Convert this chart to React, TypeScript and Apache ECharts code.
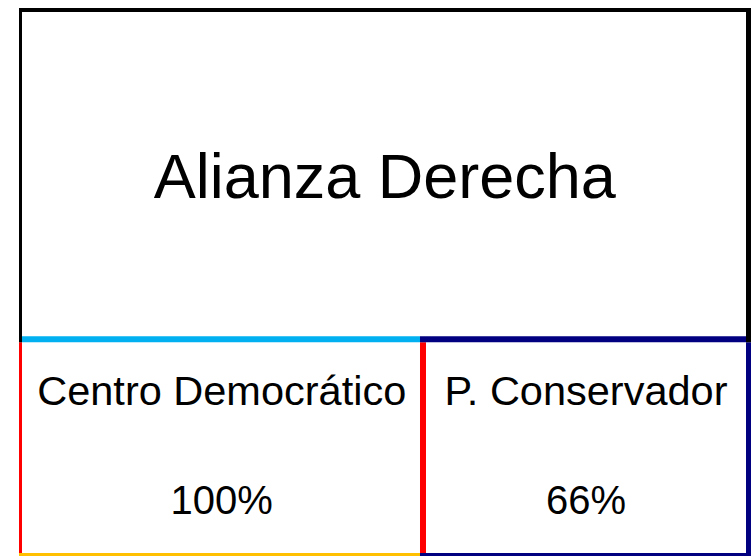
import React, { useEffect, useRef } from "react";
import * as echarts from "echarts";

// Cells of the coalition chart (data space 0..1 on both axes)
const cellNames = ["Alianza Derecha", "Centro Democrático", "P. Conservador"];
const cellShares: (number | null)[] = [null, 100, 66];
const cellX0 = [0, 0, 0.5525];
const cellX1 = [1, 0.5525, 1];
const cellY0 = [0.397, 0, 0];
const cellY1 = [1, 0.397, 0.397];
// small tick marks along the top edge
const topTicks = [0.2354, 0.551, 0.772, 0.999];

const FONT = '"Liberation Sans", Arial, Helvetica, sans-serif';

export default function App() {
  const ref = useRef<HTMLDivElement>(null);
  useEffect(() => {
    document.body.style.margin = "0";
    const chart = echarts.init(ref.current!, null, { renderer: "svg" });
    const data = cellNames.map((n, i) => [cellX0[i], cellX1[i], cellY0[i], cellY1[i], i]);

    const hLine = (x0: number, x1: number, y: number, w: number, c: string, z2: number) => ({
      type: "rect",
      shape: { x: x0, y: y - w / 2, width: x1 - x0, height: w },
      style: { fill: c },
      z2,
    });
    const vLine = (x: number, y0: number, y1: number, w: number, c: string, z2: number) => ({
      type: "rect",
      shape: { x: x - w / 2, y: y0, width: w, height: y1 - y0 },
      style: { fill: c },
      z2,
    });

    const renderItem = (params: any, api: any) => {
      const i = api.value(4);
      const tl = api.coord([api.value(0), api.value(3)]);
      const br = api.coord([api.value(1), api.value(2)]);
      const L = tl[0], T = tl[1], R = br[0], B = br[1];
      const children: any[] = [
        { type: "rect", shape: { x: L, y: T, width: R - L, height: B - T }, style: { fill: "#fff" }, z2: 0 },
      ];
      if (i === 0) {
        children.push(hLine(L - 1.5, R + 3, T, 4, "#000000", 10));
        children.push(vLine(L, T - 2, B + 3, 3, "#000000", 10));
        children.push(vLine(R, T - 2, B + 3, 6, "#000000", 10));
        children.push({
          type: "text",
          x: (L + R) / 2,
          y: (T + B) / 2 + 1.5,
          style: {
            text: cellNames[i],
            fill: "#000",
            fontSize: 63,
            fontFamily: FONT,
            align: "center",
            verticalAlign: "middle",
          },
          z2: 20,
        });
      } else {
        if (i === 1) {
          children.push(hLine(L, R - 3, T, 6, "#00B0F0", 5));
          children.push(vLine(L, T + 3, B - 3, 3, "#FF0000", 5));
          children.push(vLine(R, T + 3, B - 3, 6, "#FF0000", 5));
          children.push(hLine(L - 1.5, R - 3, B, 6, "#FFC000", 6));
        } else {
          children.push(hLine(L - 3, R - 3, T, 6, "#000080", 6));
          children.push(vLine(R, T + 3, B + 3, 6, "#000080", 6));
          children.push(hLine(L - 3, R + 3, B, 6, "#000080", 6));
        }
        const cx = (L + R) / 2;
        children.push({
          type: "text",
          x: cx,
          y: T + 51.5,
          style: { text: cellNames[i], fill: "#000", fontSize: 41.5, fontFamily: FONT, align: "center", verticalAlign: "middle" },
          z2: 20,
        });
        children.push({
          type: "text",
          x: cx,
          y: T + 161,
          style: { text: cellShares[i] + "%", fill: "#000", fontSize: 40, fontFamily: FONT, align: "center", verticalAlign: "middle" },
          z2: 20,
        });
      }
      return { type: "group", children };
    };

    chart.setOption({
      animation: false,
      backgroundColor: "#ffffff",
      grid: { left: 20.5, right: 2, top: 10, bottom: 0 },
      xAxis: {
        type: "value",
        min: 0,
        max: 1,
        position: "top",
        axisLine: { show: false },
        axisLabel: { show: false },
        splitLine: { show: false },
        axisTick: { show: true, customValues: topTicks, length: 3, lineStyle: { color: "#999", width: 1 } },
      },
      yAxis: { type: "value", min: 0, max: 1, show: false },
      series: [
        {
          type: "custom",
          renderItem,
          data,
          silent: true,
        },
      ],
    });
    return () => chart.dispose();
  }, []);
  return <div ref={ref} style={{ position: "fixed", left: 0, top: 0, width: 751, height: 556 }} />;
}
